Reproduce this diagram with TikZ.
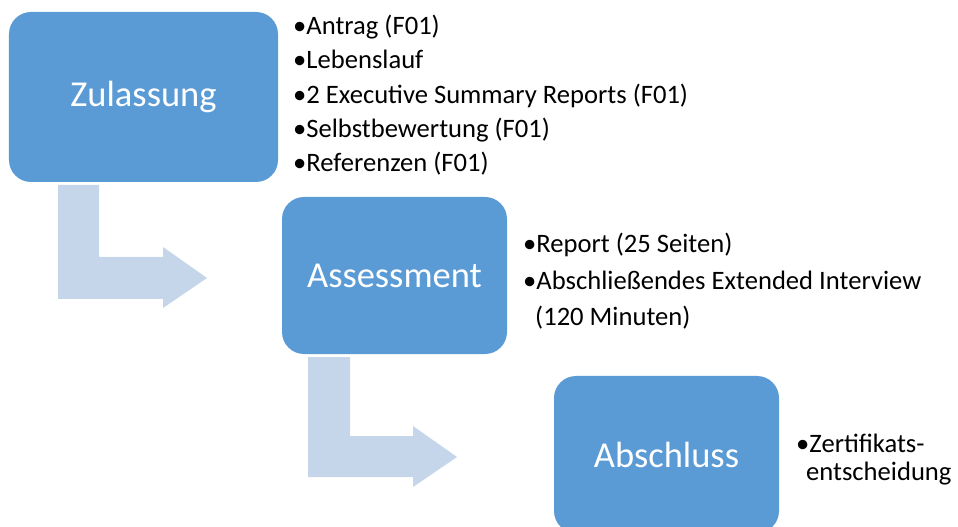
\documentclass[tikz,border=0pt]{standalone}
\usepackage{fontspec}
\setmainfont{Carlito}
\definecolor{boxblue}{HTML}{5B9BD5}
\definecolor{arrowblue}{HTML}{C5D5EA}
\tikzset{
  stagebox/.style={fill=boxblue, draw=none, rounded corners=22bp, text=white,
    font=\fontsize{36.5bp}{40bp}\selectfont, inner sep=0pt},
  bentarrow/.style={fill=arrowblue, draw=none},
  itemtext/.style={anchor=base west, inner sep=0pt, text=black,
    font=\fontsize{26.6bp}{30bp}\selectfont}
}
\begin{document}
\begin{tikzpicture}[x=1bp,y=-1bp]
\useasboundingbox (0,0) rectangle (958,527);
% bent arrows
\fill[bentarrow] (58,185) -- (99,185) -- (99,257) -- (163,257) -- (163,247) -- (207,278)
  -- (163,308) -- (163,299) -- (58,299) -- cycle;
\fill[bentarrow] (308,357) -- (350,357) -- (350,436) -- (413,436) -- (413,426) -- (457,457)
  -- (413,487) -- (413,477) -- (308,477) -- cycle;
% stage boxes
\node[stagebox, minimum width=269bp, minimum height=170bp] (zul) at (143.5,97) {Zulassung};
\node[stagebox, minimum width=225bp, minimum height=157bp] (ass) at (394.5,275.5) {Assessment};
\node[stagebox, minimum width=225bp, minimum height=157bp] (abs) at (666.5,454.5) {Abschluss};
% lists
\node[itemtext] (z1) at (293,35) {•Antrag (F01)};
\node[itemtext] (z2) at (293,69) {•Lebenslauf};
\node[itemtext] (z3) at (293,103.5) {•2 Executive Summary Reports (F01)};
\node[itemtext] (z4) at (293,137.5) {•Selbstbewertung (F01)};
\node[itemtext] (z5) at (293,172) {•Referenzen (F01)};
\node[itemtext] (a1) at (523,253) {•Report (25 Seiten)};
\node[itemtext] (a2) at (523,290) {•Abschließendes Extended Interview};
\node[itemtext] (a3) at (535,326) {(120 Minuten)};
\node[itemtext] (b1) at (796,452) {•Zertifikats-};
\node[itemtext] (b2) at (806,480) {entscheidung};
\end{tikzpicture}
\end{document}
